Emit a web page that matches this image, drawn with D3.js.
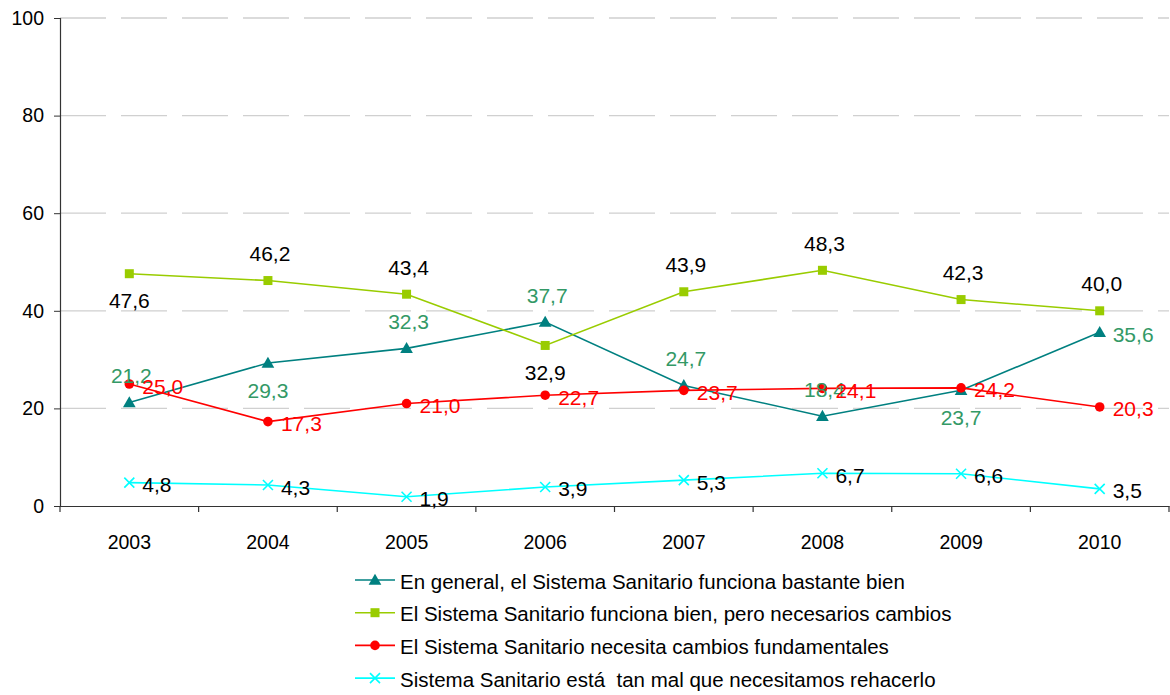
<!DOCTYPE html>
<html><head><meta charset="utf-8">
<script src="https://cdn.jsdelivr.net/npm/d3@7"></script>
<style>body{margin:0;background:#fff}svg{display:block;font-family:"Liberation Sans",Arial,sans-serif}</style>
</head><body><svg id="c" width="1170" height="695"></svg>
<script>
const years = ["2003","2004","2005","2006","2007","2008","2009","2010"];
const yTicks = [0,20,40,60,80,100];
const seriesNames = [
  "En general, el Sistema Sanitario funciona bastante bien",
  "El Sistema Sanitario funciona bien, pero necesarios cambios",
  "El Sistema Sanitario necesita cambios fundamentales",
  "Sistema Sanitario está  tan mal que necesitamos rehacerlo"
];
const bienValues = [21.2,29.3,32.3,37.7,24.7,18.4,23.7,35.6];
const cambiosValues = [47.6,46.2,43.4,32.9,43.9,48.3,42.3,40.0];
const fundamentalesValues = [25.0,17.3,21.0,22.7,23.7,24.1,24.2,20.3];
const rehacerValues = [4.8,4.3,1.9,3.9,5.3,6.7,6.6,3.5];
// label placement per point
const bienPlace = ["above","below","above","above","above","above","below","right"];
const cambiosPlace = ["below","above","above","below","above","above","above","above"];
const fundPlace = ["right","right","right","right","right","right","right","right"];
const rehPlace = ["right","right","right","right","right","right","right","right"];

const series = [
  {name:seriesNames[0], values:bienValues, color:"#008080", labelColor:"#339966", marker:"triangle", place:bienPlace},
  {name:seriesNames[1], values:cambiosValues, color:"#99CC00", labelColor:"#000000", marker:"square", place:cambiosPlace},
  {name:seriesNames[2], values:fundamentalesValues, color:"#FF0000", labelColor:"#FF0000", marker:"circle", place:fundPlace},
  {name:seriesNames[3], values:rehacerValues, color:"#00FFFF", labelColor:"#000000", marker:"cross", place:rehPlace}
];

const svg = d3.select("#c");
const L=60, R=1169, T=18, B=506;
const x = d3.scaleBand().domain(years).range([L,R]);
const y = d3.scaleLinear().domain([0,100]).range([B,T]);
const cx = d => x(d)+x.bandwidth()/2;

// gridlines
svg.append("g").selectAll("line").data(yTicks.filter(t=>t>0)).join("line")
  .attr("x1",L).attr("x2",R).attr("y1",d=>y(d)).attr("y2",d=>y(d))
  .attr("stroke","#d0d0d0").attr("stroke-width",1.3).attr("stroke-dasharray","46,15");

// y axis
const ya = svg.append("g").attr("transform",`translate(${L},0)`)
  .call(d3.axisLeft(y).tickValues(yTicks).tickSize(6).tickPadding(10));
ya.select(".domain").attr("stroke","#333").attr("stroke-width",1.2);
ya.selectAll(".tick line").attr("stroke","#333");
ya.selectAll("text").attr("font-size",19.5).attr("fill","#000").attr("font-family","Liberation Sans, Arial, sans-serif");

// x axis
const xa = svg.append("g").attr("transform",`translate(0,${B})`)
  .call(d3.axisBottom(x).tickSize(0).tickPadding(29));
xa.select(".domain").attr("stroke","#333").attr("stroke-width",1.2);
xa.selectAll("text").attr("font-size",19.5).attr("fill","#000").attr("font-family","Liberation Sans, Arial, sans-serif");
svg.append("g").selectAll("line").data(d3.range(years.length+1)).join("line")
  .attr("x1",i=>L+i*x.step()).attr("x2",i=>L+i*x.step()).attr("y1",B).attr("y2",B+6)
  .attr("stroke","#333").attr("stroke-width",1.2);

function drawMarker(g, type, color, px, py){
  if(type==="triangle"){
    g.append("path").attr("d",d3.symbol(d3.symbolTriangle,70)()).attr("transform",`translate(${px},${py+1})`).attr("fill",color);
  } else if(type==="square"){
    g.append("rect").attr("x",px-4.5).attr("y",py-4.5).attr("width",9).attr("height",9).attr("fill",color);
  } else if(type==="circle"){
    g.append("circle").attr("cx",px).attr("cy",py).attr("r",4.8).attr("fill",color);
  } else {
    g.append("path").attr("d",`M${px-5},${py-5}L${px+5},${py+5}M${px-5},${py+5}L${px+5},${py-5}`)
      .attr("stroke",color).attr("stroke-width",1.6);
  }
}

const line = d3.line().x((d,i)=>cx(years[i])).y(d=>y(d));
series.forEach(s=>{
  const g = svg.append("g");
  g.append("path").attr("d",line(s.values)).attr("fill","none").attr("stroke",s.color).attr("stroke-width",1.6);
  s.values.forEach((v,i)=>drawMarker(g,s.marker,s.color,cx(years[i]),y(v)));
});

// labels
const fmt = v => v.toFixed(1).replace(".",",");
series.forEach(s=>{
  const g = svg.append("g").attr("font-size",21).attr("fill",s.labelColor);
  s.values.forEach((v,i)=>{
    const px=cx(years[i]), py=y(v);
    const p=s.place[i];
    const t=g.append("text").text(fmt(v)).attr("dominant-baseline","central");
    if(p==="above") t.attr("x",px+2).attr("y",py-27).attr("text-anchor","middle");
    else if(p==="below") t.attr("x",px).attr("y",py+27).attr("text-anchor","middle");
    else t.attr("x",px+13).attr("y",py+2).attr("text-anchor","start");
  });
});

// legend
const lg = svg.append("g").attr("transform","translate(355,580)");
series.forEach((s,i)=>{
  const gy=i*32.7;
  const g=lg.append("g");
  g.append("line").attr("x1",0).attr("x2",40).attr("y1",gy).attr("y2",gy).attr("stroke",s.color).attr("stroke-width",1.6);
  drawMarker(g,s.marker,s.color,20,gy);
  g.append("text").attr("x",45).attr("y",gy+1).attr("dominant-baseline","central")
    .style("white-space","pre")
    .attr("font-size",20.5).attr("fill","#000").text(s.name);
});
</script></body></html>
